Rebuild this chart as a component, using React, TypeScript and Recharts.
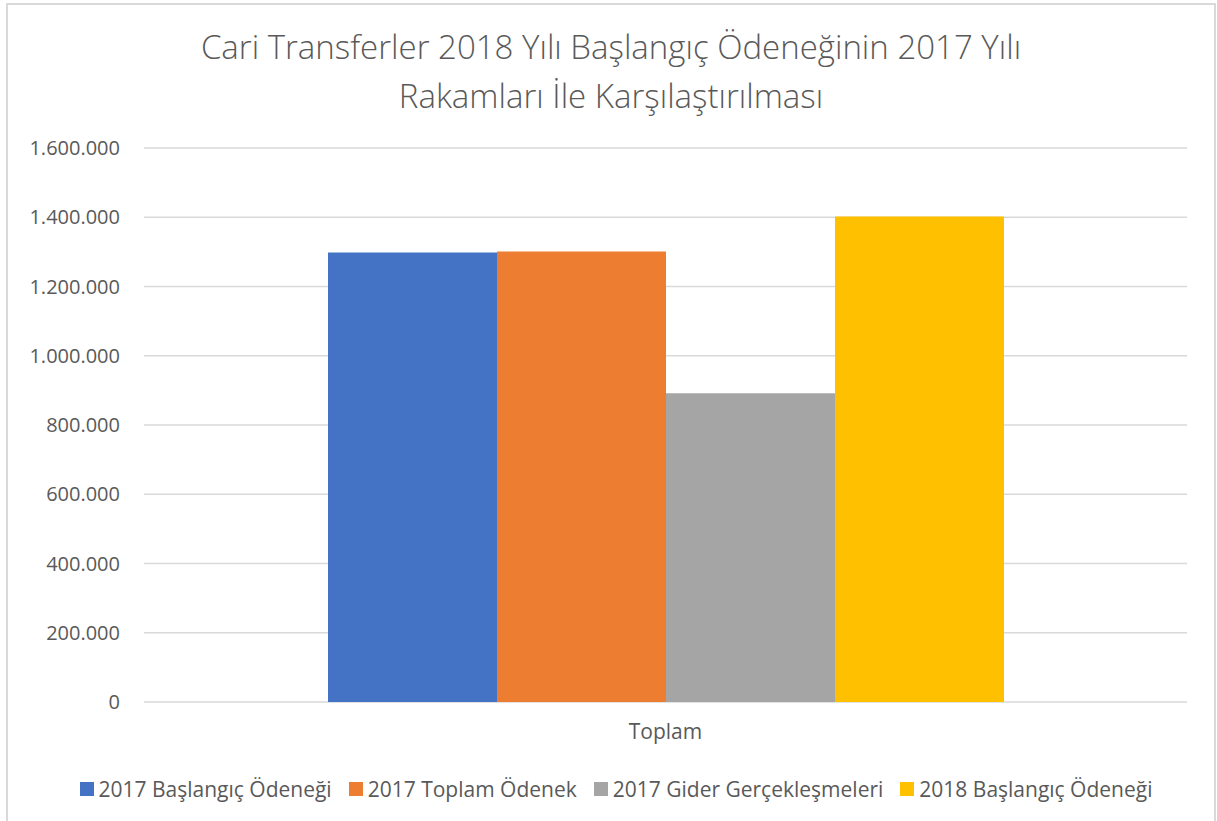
import React from 'react';
import { BarChart, Bar, XAxis, YAxis, CartesianGrid, Legend } from 'recharts';

// Values
const categories = ['Toplam'];
const baslangic2017 = [1298000];
const toplamOdenek2017 = [1301000];
const giderGerceklesme2017 = [892000];
const baslangic2018 = [1402000];
const yTicks = [0, 200000, 400000, 600000, 800000, 1000000, 1200000, 1400000, 1600000];

const seriesKeys = ['s0', 's1', 's2', 's3'];
const seriesNames = [
  '2017 Başlangıç Ödeneği',
  '2017 Toplam Ödenek',
  '2017 Gider Gerçekleşmeleri',
  '2018 Başlangıç Ödeneği',
];
const seriesColors = ['#4472C4', '#ED7D31', '#A5A5A5', '#FFC000'];

const data = categories.map((name, i) => ({
  name,
  s0: baslangic2017[i],
  s1: toplamOdenek2017[i],
  s2: giderGerceklesme2017[i],
  s3: baslangic2018[i],
}));

const fmt = (v: number) => v.toLocaleString('de-DE');

const FONT = '"Open Sans", "Noto Sans", sans-serif';
const TEXT = '#595959';

// legend drawn in series order, Excel style: small square + label
const renderLegend = (props: any) => {
  const items = [...(props.payload || [])].sort(
    (a: any, b: any) => seriesKeys.indexOf(a.dataKey) - seriesKeys.indexOf(b.dataKey)
  );
  return (
    <div style={{ display: 'flex', justifyContent: 'center', alignItems: 'center', height: 30, paddingLeft: 15 }}>
      {items.map((it: any, i: number) => (
        <div key={it.value} style={{ display: 'flex', alignItems: 'center', marginLeft: i === 0 ? 0 : 17 }}>
          <span style={{ width: 14, height: 14, background: it.color, marginRight: 5, display: 'inline-block' }} />
          <span style={{ color: TEXT, fontSize: 21, fontFamily: FONT, lineHeight: '30px' }}>{it.value}</span>
        </div>
      ))}
    </div>
  );
};

export default function App() {
  return (
    <div style={{ position: 'absolute', left: 0, top: 0, width: 1217, height: 821, background: '#fff', overflow: 'hidden', fontFamily: FONT }}>
      {/* chart frame */}
      <div style={{ position: 'absolute', left: 6, top: 3, width: 1206, height: 840, border: '2px solid #d9d9d9' }} />
      <div
        style={{
          position: 'absolute', left: 0, top: 22, width: 1222, textAlign: 'center',
          fontSize: 33, lineHeight: '49px', color: TEXT, fontWeight: 300,
        }}
      >
        Cari Transferler 2018 Yılı Başlangıç Ödeneğinin 2017 Yılı
        <br />
        Rakamları İle Karşılaştırılması
      </div>
      <div style={{ position: 'absolute', left: 0, top: 0 }}>
        <BarChart
          width={1217}
          height={821}
          data={data}
          margin={{ top: 148, right: 30, left: 0, bottom: 39 }}
          barCategoryGap={184}
          barGap={0}
        >
          <CartesianGrid horizontal vertical={false} stroke="#d9d9d9" strokeWidth={1.5} />
          <XAxis
            dataKey="name"
            axisLine={false}
            tickLine={false}
            tickSize={0}
            tickMargin={22}
            height={50}
            tick={{ fill: TEXT, fontSize: 21, fontFamily: FONT }}
          />
          <YAxis
            domain={[0, 1600000]}
            ticks={yTicks}
            tickFormatter={fmt}
            axisLine={false}
            tickLine={false}
            tickSize={0}
            tickMargin={24}
            width={144}
            tick={{ fill: TEXT, fontSize: 20, fontFamily: FONT }}
          />
          <Legend
            verticalAlign="bottom"
            content={renderLegend}
            wrapperStyle={{ top: 774, bottom: 'auto', left: 0, width: 1217 }}
          />
          {seriesKeys.map((k, i) => (
            <Bar key={k} dataKey={k} name={seriesNames[i]} fill={seriesColors[i]} isAnimationActive={false} />
          ))}
        </BarChart>
      </div>
    </div>
  );
}
